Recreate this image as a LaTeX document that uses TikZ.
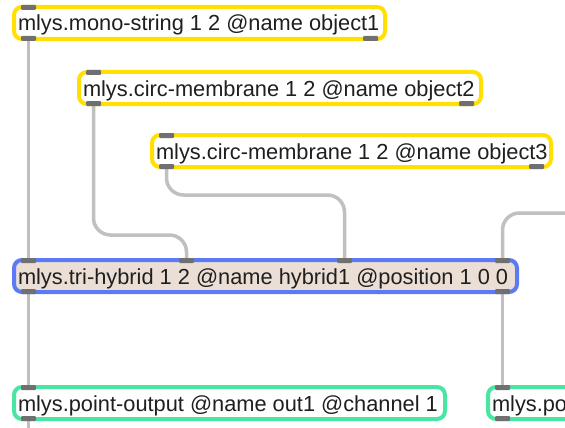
\documentclass[tikz,border=0pt]{standalone}
\usepackage{fontspec}
\setmainfont{Liberation Sans}
\usetikzlibrary{calc,backgrounds}
\definecolor{objyellow}{RGB}{255,224,0}
\definecolor{hybblue}{RGB}{92,122,245}
\definecolor{hybfill}{RGB}{234,222,213}
\definecolor{outgreen}{RGB}{72,230,162}
\definecolor{portgray}{RGB}{112,112,112}
\definecolor{cablegray}{RGB}{192,192,192}
\newcommand{\boxtext}[2]{\makebox[#1][l]{#2}}
\begin{document}
\begin{tikzpicture}[x=1pt,y=-1pt,
  mbox/.style={draw, rounded corners=8pt, line width=4pt, fill=white,
    anchor=north west, outer sep=0pt, inner xsep=4pt, inner ysep=0pt, minimum height=32pt,
    text height=19pt, text depth=3pt,
    font=\fontsize{21.8}{24}\selectfont, text=black!88},
  objbox/.style={mbox, draw=objyellow},
  hybbox/.style={mbox, draw=hybblue, fill=hybfill},
  outbox/.style={mbox, draw=outgreen},
  cable/.style={draw=cablegray, line width=3.5pt, rounded corners=17pt},
  port/.style={fill=portgray, rounded corners=1pt}]
\useasboundingbox (0,0) rectangle (565,428);
\clip (0,0) rectangle (565,428);

\node[objbox] (obj1) at (14,7) {\boxtext{363pt}{mlys.mono-string 1 2 @name object1}};
\node[objbox] (obj2) at (79,72) {\boxtext{394pt}{mlys.circ-membrane 1 2 @name object2}};
\node[objbox] (obj3) at (152,135) {\boxtext{391pt}{mlys.circ-membrane 1 2 @name object3}};
\node[hybbox] (hyb) at (14,260) {\boxtext{495pt}{mlys.tri-hybrid 1 2 @name hybrid1 @position 1 0 0}};
\node[outbox] (out1) at (14,387) {\boxtext{423pt}{mlys.point-output @name out1 @channel 1}};
\node[outbox] (out2) at (488,387) {\boxtext{420pt}{mlys.point-output @name out2 @channel 2}};

% port centres
\coordinate (o1a) at ($(obj1.south west)+(14.5,0)$);
\coordinate (o2a) at ($(obj2.south west)+(14.5,0)$);
\coordinate (o3a) at ($(obj3.south west)+(14.5,0)$);
\coordinate (h1) at ($(hyb.north west)+(14.5,0)$);
\coordinate (h2) at ($(hyb.north west)+(172.5,0)$);
\coordinate (h3) at ($(hyb.north west)+(330.5,0)$);
\coordinate (h4) at ($(hyb.north east)+(-14.5,0)$);
\coordinate (hoa) at ($(hyb.south west)+(14.5,0)$);
\coordinate (hob) at ($(hyb.south east)+(-14.5,0)$);
\coordinate (p1in) at ($(out1.north west)+(14.5,0)$);
\coordinate (p1out) at ($(out1.south west)+(14.5,0)$);
\coordinate (p2in) at ($(out2.north west)+(14.5,0)$);
\coordinate (offright) at (575,213);
\coordinate (offbottom) at ($(p1out)+(0,20)$);

\begin{scope}[on background layer]
\fill[white] (0,0) rectangle (565,428);
\draw[cable] (o1a) -- (h1);
\draw[cable] (o2a) -- ($(o2a|-0,235)$) -- ($(h2|-0,235)$) -- (h2);
\draw[cable] (o3a) -- ($(o3a|-0,195)$) -- ($(h3|-0,195)$) -- (h3);
\draw[cable] (offright) -- ($(h4|-offright)$) -- (h4);
\draw[cable] (hoa) -- (p1in);
\draw[cable] (hob) -- (p2in);
\draw[cable] (p1out) -- (offbottom);
\end{scope}

% ports
\foreach \n in {obj1,obj2,obj3,hyb,out1,out2}{
  \fill[port] ($(\n.north west)+(7,-2)$) rectangle ($(\n.north west)+(22,3)$);
  \fill[port] ($(\n.south west)+(7,-3)$) rectangle ($(\n.south west)+(22,2)$);
}
\foreach \n in {obj1,obj2,obj3,hyb}{
  \fill[port] ($(\n.south east)+(-22,-3)$) rectangle ($(\n.south east)+(-7,2)$);
}
\fill[port] ($(hyb.north east)+(-22,-2)$) rectangle ($(hyb.north east)+(-7,3)$);
\fill[port] ($(hyb.north west)+(165,-2)$) rectangle ($(hyb.north west)+(180,3)$);
\fill[port] ($(hyb.north west)+(323,-2)$) rectangle ($(hyb.north west)+(338,3)$);
\end{tikzpicture}
\end{document}
